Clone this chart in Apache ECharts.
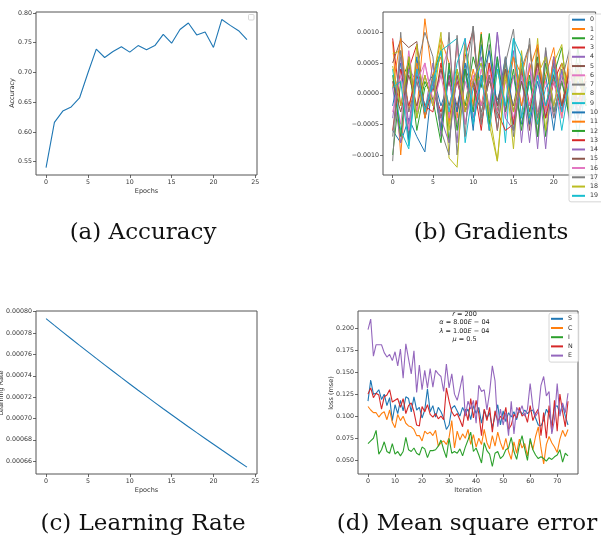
<!DOCTYPE html>
<html>
<head>
<meta charset="utf-8">
<script src="https://cdn.jsdelivr.net/npm/echarts@6/dist/echarts.min.js"></script>
<style>
  html, body { margin: 0; padding: 0; background: #fff; }
  #chart { width: 601px; height: 542px; }
</style>
</head>
<body>
<div id="chart"></div>
<script>
// ---------- data ----------
const epochs = [0,1,2,3,4,5,6,7,8,9,10,11,12,13,14,15,16,17,18,19,20,21,22,23,24];

const accuracy = [0.540,0.616,0.635,0.642,0.657,0.699,0.739,0.725,0.735,0.743,0.734,0.745,0.738,
                  0.745,0.764,0.749,0.772,0.783,0.763,0.768,0.742,0.789,0.779,0.770,0.755];

const learningRate = [0.00079360,0.00078725,0.00078095,0.00077471,0.00076851,0.00076236,0.00075626,
                      0.00075021,0.00074421,0.00073826,0.00073235,0.00072649,0.00072068,0.00071491,
                      0.00070919,0.00070352,0.00069789,0.00069231,0.00068677,0.00068128,0.00067583,
                      0.00067042,0.00066506,0.00065974,0.00065446];

// per-layer gradient means, one array per layer (0..19)
const grad0  = [-6e-4,-8e-4,-4e-4,-7e-4,-9.5e-4,3e-4,-2e-4,2e-4,-3e-4,4e-4,-6e-4,8e-4,-4e-4,5e-4,-2e-4,3e-4,-5e-4,2e-4,-4e-4,3e-4,-6e-4,4e-4,-3e-4,2e-4,-1e-4];
const grad1  = [8.5e-4,-10e-4,6e-4,-3e-4,12.2e-4,2e-4,9e-4,5e-4,-4e-4,8e-4,-2e-4,10e-4,-6e-4,4e-4,-3e-4,6e-4,3e-4,8e-4,-5e-4,3e-4,7.5e-4,-2e-4,5e-4,-4e-4,2e-4];
const grad2  = [-10e-4,2e-4,5e-4,-6e-4,1e-4,3e-4,7e-4,-8e-4,4e-4,-2e-4,6e-4,1e-4,9.8e-4,-3e-4,5e-4,-6e-4,2e-4,-4e-4,6e-4,-7e-4,3e-4,7.5e-4,-3e-4,4e-4,-2e-4];
const grad3  = [9e-4,-2e-4,4e-4,8e-4,-4e-4,1e-4,-3e-4,2e-4,-3e-4,6e-4,10.3e-4,-5e-4,3e-4,-6e-4,4e-4,-5e-4,6e-4,-2e-4,4e-4,-3e-4,2e-4,5e-4,1e-4,-2e-4,3e-4];
const grad4  = [1e-4,-8e-4,4e-4,2e-4,-3e-4,5e-4,-7e-4,3e-4,-8e-4,9e-4,-4e-4,3e-4,-6e-4,10e-4,-3e-4,7e-4,-8e-4,5e-4,-9e-4,7e-4,-2e-4,4e-4,-5e-4,3e-4,-1e-4];
const grad5  = [5e-4,8.8e-4,7.5e-4,8.5e-4,-3e-4,2e-4,-4e-4,3e-4,-2e-4,4e-4,1e-4,-3e-4,2e-4,-1e-4,3e-4,-2e-4,5e-4,-6e-4,7.5e-4,-3e-4,6e-4,-2e-4,4e-4,-3e-4,1e-4];
const grad6  = [2e-4,-5e-4,7e-4,-3e-4,5e-4,-1e-4,3e-4,8e-4,-5e-4,2e-4,-3e-4,4e-4,-2e-4,6e-4,-4e-4,3e-4,-2e-4,5e-4,-3e-4,2e-4,-4e-4,3e-4,-2e-4,4e-4,-1e-4];
const grad7  = [-11e-4,10e-4,-7e-4,4e-4,10e-4,6e-4,-6e-4,10e-4,-10e-4,3e-4,11e-4,-4e-4,8e-4,-6e-4,5e-4,10.5e-4,-4e-4,9e-4,-7e-4,7.5e-4,-4e-4,2e-4,-3e-4,5e-4,-2e-4];
const grad8  = [6.5e-4,7e-4,-8e-4,8e-4,-3e-4,2e-4,10e-4,-10.5e-4,-12e-4,8e-4,1e-4,3e-4,-5e-4,-11e-4,4e-4,-9e-4,7e-4,-5e-4,9e-4,-6e-4,5e-4,8e-4,-4e-4,3e-4,-2e-4];
const grad9  = [4e-4,-6e-4,-9e-4,3e-4,-2e-4,1e-4,7e-4,8e-4,9e-4,-8e-4,1e-4,5e-4,-3e-4,6e-4,-8e-4,9e-4,-4e-4,2e-4,-5e-4,1e-4,3e-4,-6e-4,2e-4,-4e-4,1e-4];
const grad10 = [-2e-4,5e-4,-7.5e-4,6e-4,-4e-4,2e-4,-6e-4,4e-4,-3e-4,5e-4,-5e-4,2e-4,7e-4,-2e-4,6e-4,-3e-4,4e-4,-5e-4,2e-4,-4e-4,5e-4,-3e-4,2e-4,-1e-4,2e-4];
const grad11 = [1e-4,9e-4,-3e-4,5e-4,-4e-4,3e-4,6e-4,-5e-4,8e-4,-3e-4,4e-4,-2e-4,5e-4,-3e-4,2e-4,6e-4,-2e-4,4e-4,8e-4,-3e-4,6e-4,-4e-4,7e-4,-2e-4,3e-4];
const grad12 = [3e-4,-7e-4,6e-4,-4e-4,2e-4,-1e-4,-8e-4,5e-4,-6e-4,4e-4,-3e-4,9.7e-4,-5e-4,6e-4,-3e-4,4e-4,-6e-4,3e-4,-7e-4,5e-4,-3e-4,2e-4,-4e-4,7.5e-4,-2e-4];
const grad13 = [-6e-4,4e-4,-2e-4,3e-4,-2e-4,-3e-4,5e-4,-4e-4,2e-4,-3e-4,2e-4,-6e-4,5e-4,-3e-4,-6e-4,-5e-4,4e-4,-3e-4,5e-4,-4e-4,2e-4,-3e-4,4e-4,-2e-4,1e-4];
const grad14 = [-4e-4,6e-4,-5e-4,4e-4,-3e-4,2e-4,-4e-4,-8e-4,3e-4,-5e-4,2e-4,6e-4,-3e-4,10e-4,-4e-4,-6e-4,3e-4,-8e-4,4e-4,-9e-4,6e-4,-3e-4,2e-4,-4e-4,1e-4];
const grad15 = [2e-4,-3e-4,3e-4,-2e-4,3e-4,-2e-4,4e-4,-2e-4,3e-4,-3e-4,2e-4,-2e-4,3e-4,-2e-4,4e-4,-3e-4,2e-4,-3e-4,5e-4,-2e-4,3e-4,-2e-4,4e-4,-2e-4,1e-4];
const grad16 = [-3e-4,3e-4,-6e-4,2e-4,5e-4,-2e-4,3e-4,-4e-4,8e-4,-5e-4,3e-4,-2e-4,4e-4,-3e-4,2e-4,-4e-4,3e-4,-2e-4,4e-4,-3e-4,2e-4,-4e-4,3e-4,-2e-4,1e-4];
const grad17 = [-7e-4,7e-4,-3e-4,2e-4,-3e-4,3e-4,-6e-4,-10e-4,9.5e-4,-7e-4,11e-4,-5e-4,3e-4,-4e-4,6e-4,-7e-4,4e-4,8e-4,-4e-4,6e-4,-3e-4,2e-4,7.5e-4,-4e-4,2e-4];
const grad18 = [4.5e-4,-2e-4,6e-4,-4e-4,3e-4,-2e-4,8e-4,-6e-4,4e-4,-3e-4,2e-4,5e-4,-3e-4,-11e-4,3e-4,-3e-4,5e-4,-4e-4,3e-4,6e-4,-2e-4,5e-4,-3e-4,4e-4,-1e-4];
const grad19 = [1e-4,2e-4,-8.5e-4,4e-4,-3e-4,2e-4,7e-4,-3e-4,5e-4,9e-4,-5e-4,3e-4,-6e-4,4e-4,-2e-4,9e-4,6e-4,-4e-4,3e-4,-2e-4,4e-4,-3e-4,2e-4,-7e-4,1e-4];
const gradients = [grad0,grad1,grad2,grad3,grad4,grad5,grad6,grad7,grad8,grad9,
                   grad10,grad11,grad12,grad13,grad14,grad15,grad16,grad17,grad18,grad19];
const gradNames = gradients.map((_, i) => String(i));

// mean square error per output, 75 iterations
const mseS = [0.117,0.141,0.125,0.126,0.130,0.119,0.125,0.112,0.121,0.095,0.113,0.103,0.118,0.106,0.122,0.120,0.105,0.122,0.107,0.110,
              0.098,0.107,0.131,0.105,0.112,0.099,0.110,0.105,0.098,0.085,0.090,0.109,0.112,0.106,0.100,0.110,0.103,0.108,0.096,0.112,
              0.103,0.110,0.092,0.107,0.098,0.104,0.087,0.100,0.113,0.090,0.106,0.094,0.104,0.099,0.105,0.096,0.108,0.102,0.107,0.103,
              0.106,0.107,0.098,0.090,0.089,0.096,0.108,0.102,0.090,0.110,0.112,0.103,0.113,0.100,0.090];
const mseC = [0.111,0.107,0.104,0.104,0.099,0.103,0.105,0.096,0.107,0.093,0.087,0.102,0.095,0.100,0.092,0.089,0.088,0.085,0.078,0.078,
              0.072,0.083,0.080,0.082,0.078,0.084,0.066,0.070,0.072,0.068,0.076,0.095,0.064,0.083,0.073,0.080,0.075,0.085,0.068,0.079,
              0.065,0.075,0.068,0.085,0.070,0.063,0.078,0.066,0.082,0.070,0.062,0.075,0.060,0.051,0.071,0.058,0.074,0.064,0.069,0.055,
              0.072,0.062,0.077,0.088,0.064,0.046,0.068,0.077,0.070,0.065,0.059,0.074,0.084,0.077,0.085];
const mseI = [0.069,0.072,0.075,0.084,0.057,0.062,0.071,0.060,0.058,0.069,0.057,0.060,0.055,0.060,0.076,0.062,0.060,0.064,0.058,0.056,
              0.065,0.063,0.053,0.061,0.061,0.062,0.066,0.073,0.062,0.053,0.075,0.058,0.060,0.058,0.063,0.055,0.065,0.073,0.082,0.060,
              0.064,0.056,0.047,0.070,0.061,0.057,0.043,0.058,0.060,0.052,0.055,0.062,0.064,0.076,0.060,0.051,0.067,0.078,0.063,0.050,
              0.075,0.062,0.056,0.052,0.054,0.052,0.049,0.053,0.051,0.054,0.056,0.062,0.048,0.058,0.055];
const mseN = [0.125,0.132,0.121,0.126,0.124,0.108,0.122,0.124,0.130,0.116,0.118,0.120,0.110,0.120,0.103,0.112,0.115,0.105,0.090,0.089,
              0.111,0.105,0.113,0.102,0.099,0.103,0.097,0.100,0.096,0.132,0.117,0.105,0.100,0.103,0.096,0.088,0.108,0.095,0.120,0.098,
              0.118,0.103,0.078,0.108,0.095,0.110,0.082,0.106,0.094,0.100,0.096,0.110,0.085,0.090,0.102,0.098,0.110,0.100,0.103,0.093,
              0.112,0.095,0.103,0.108,0.078,0.104,0.075,0.112,0.082,0.118,0.083,0.125,0.105,0.088,0.117];
const mseE = [0.198,0.210,0.168,0.181,0.181,0.181,0.172,0.167,0.170,0.163,0.173,0.157,0.176,0.143,0.182,0.165,0.148,0.174,0.127,0.158,
              0.130,0.152,0.132,0.154,0.133,0.152,0.148,0.145,0.128,0.159,0.132,0.148,0.125,0.118,0.131,0.146,0.100,0.117,0.108,0.118,
              0.092,0.135,0.128,0.130,0.107,0.127,0.157,0.140,0.088,0.108,0.090,0.104,0.078,0.117,0.080,0.110,0.104,0.112,0.100,0.108,
              0.137,0.110,0.100,0.105,0.135,0.145,0.123,0.128,0.080,0.096,0.137,0.100,0.115,0.104,0.126];
const mseNames = ['S','C','I','N','E'];
const mseSeries = [mseS, mseC, mseI, mseN, mseE];

// tick values
const epochTicks = [0,5,10,15,20,25];
const accTicks = [0.55,0.60,0.65,0.70,0.75,0.80];
const gradTicks = [-0.001,-0.0005,0,0.0005,0.001];
const lrTicks = [0.00066,0.00068,0.00070,0.00072,0.00074,0.00076,0.00078,0.00080];
const iterTicks = [0,10,20,30,40,50,60,70];
const lossTicks = [0.050,0.075,0.100,0.125,0.150,0.175,0.200];

// ---------- styling ----------
const tab10 = ['#1f77b4','#ff7f0e','#2ca02c','#d62728','#9467bd','#8c564b','#e377c2','#7f7f7f','#bcbd22','#17becf'];
const TICK_FONT = { fontFamily: 'DejaVu Sans', fontSize: 6.3, color: '#333' };
const mpl = s => s.replace('-', '\u2212');

function makeGrid(left, top, width, height) {
  return { left, top, width, height, containLabel: false, show: true,
           borderColor: '#555', borderWidth: 1, backgroundColor: 'transparent' };
}
function makeAxis(gridIndex, min, max, ticks, fmt) {
  return {
    type: 'value', gridIndex, min, max,
    axisLine: { show: false, onZero: false },
    splitLine: { show: false },
    axisTick: { show: true, inside: false, length: 3, customValues: ticks,
                lineStyle: { color: '#444', width: 0.8 } },
    axisLabel: Object.assign({ show: true, margin: 4, customValues: ticks, formatter: fmt,
                               hideOverlap: false }, TICK_FONT)
  };
}
const idx = Array.from({ length: mseS.length }, (_, i) => i);
const pairs = (xs, ys) => ys.map((v, i) => [xs[i], v]);

function lineSeries(name, xi, yi, data, color, width) {
  return { type: 'line', name, xAxisIndex: xi, yAxisIndex: yi, data, color,
           showSymbol: false, symbol: 'none', clip: true,
           lineStyle: { color, width: width || 1.1 }, emphasis: { disabled: true } };
}

const series = [];
series.push(lineSeries('accuracy', 0, 0, pairs(epochs, accuracy), tab10[0]));
gradients.forEach((g, i) => series.push(lineSeries(gradNames[i], 1, 1, pairs(epochs, g), tab10[i % 10], 1)));
series.push(lineSeries('learning rate', 2, 2, pairs(epochs, learningRate), tab10[0]));
mseSeries.forEach((m, i) => series.push(lineSeries(mseNames[i], 3, 3, pairs(idx, m), tab10[i])));

const legendBase = {
  orient: 'vertical', icon: 'rect', itemHeight: 2, selectedMode: false,
  backgroundColor: 'rgba(255,255,255,0.85)', borderColor: '#ccc', borderWidth: 0.8, borderRadius: 2,
  textStyle: { fontFamily: 'DejaVu Sans', fontSize: 6.3, lineHeight: 8, color: '#333' }
};

const axisTitle = { fontFamily: 'DejaVu Sans', fontSize: 6.5, fill: '#333' };
const caption = { fontFamily: 'DejaVu Serif', fontSize: 23, fill: '#111' };

function txt(x, y, text, style, rot) {
  return { type: 'text', x, y, rotation: rot || 0,
           style: Object.assign({ text, align: 'center', verticalAlign: 'middle' }, style) };
}
function mathLine(y, text) {
  return { type: 'text', x: 464.5, y,
           style: { text, align: 'center', verticalAlign: 'middle', fontFamily: 'DejaVu Sans', fontSize: 6.5, fill: '#222',
                    rich: { i: { fontStyle: 'italic', fontFamily: 'DejaVu Sans', fontSize: 6.5 } } } };
}

const option = {
  animation: false,
  backgroundColor: '#fff',
  grid: [
    makeGrid(36, 12, 221, 163),
    makeGrid(383, 12, 218, 163),
    makeGrid(36, 311, 221, 163),
    makeGrid(358, 311, 220, 163)
  ],
  xAxis: [
    makeAxis(0, -1.2, 25.2, epochTicks, v => String(v)),
    makeAxis(1, -1.2, 25.2, epochTicks, v => String(v)),
    makeAxis(2, -1.2, 25.2, epochTicks, v => String(v)),
    makeAxis(3, -3.7, 77.7, iterTicks, v => String(v))
  ],
  yAxis: [
    makeAxis(0, 0.5275, 0.8015, accTicks, v => v.toFixed(2)),
    makeAxis(1, -0.001326, 0.00133, gradTicks, v => Math.abs(v) < 1e-12 ? '0.0000' : mpl(v.toFixed(4))),
    makeAxis(2, 0.000648, 0.0008007, lrTicks, v => v.toFixed(5)),
    makeAxis(3, 0.0345, 0.2192, lossTicks, v => v.toFixed(3))
  ],
  legend: [
    Object.assign({}, legendBase, { data: gradNames, left: 569, top: 14, itemWidth: 13, itemGap: 1.27,
                                    padding: [1.7, 12, 2, 3] }),
    Object.assign({}, legendBase, { data: mseNames, left: 549, top: 313, itemWidth: 12, itemGap: 1.2,
                                    padding: [1.8, 6, 2.5, 2] })
  ],
  series,
  graphic: [
    // empty legend frame of the accuracy plot
    { type: 'rect', shape: { x: 248.5, y: 14.5, width: 5.5, height: 5.5, r: 1 },
      style: { fill: '#fff', stroke: '#ccc', lineWidth: 0.8 } },
    // axis titles
    txt(12.5, 93, 'Accuracy', axisTitle, Math.PI / 2),
    txt(146.5, 191, 'Epochs', axisTitle),
    txt(1.5, 393, 'Learning Rate', axisTitle, Math.PI / 2),
    txt(146.5, 490, 'Epochs', axisTitle),
    txt(331, 393, 'loss (mse)', axisTitle, Math.PI / 2),
    txt(468, 490, 'Iteration', axisTitle),
    // hyper-parameters of the run
    mathLine(314, '{i|r} = 200'),
    mathLine(322.5, '{i|\u03b1} = 8.00{i|E} \u2212 04'),
    mathLine(331, '{i|\u03bb} = 1.00{i|E} \u2212 04'),
    mathLine(339.5, '{i|\u03bc} = 0.5'),
    // sub-figure captions
    txt(143, 233, '(a) Accuracy', caption),
    txt(491, 233, '(b) Gradients', caption),
    txt(143, 524, '(c) Learning Rate', caption),
    txt(467, 524, '(d) Mean square error', caption)
  ]
};

const chart = echarts.init(document.getElementById('chart'), null, { renderer: 'canvas' });
chart.setOption(option);
</script>
</body>
</html>
